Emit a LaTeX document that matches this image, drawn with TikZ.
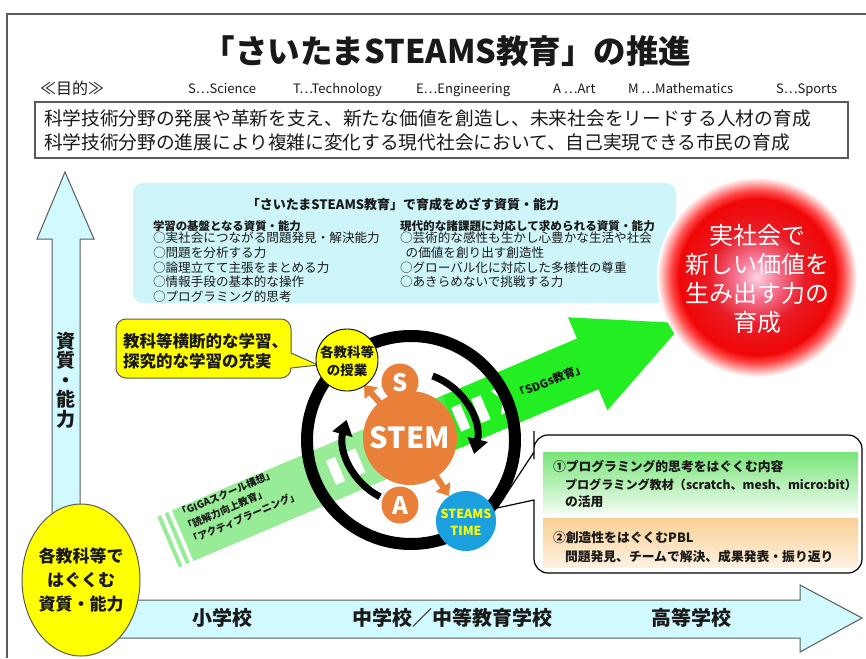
\documentclass[tikz,border=0pt]{standalone}
\usepackage{fontspec}
\setmainfont{Noto Sans CJK JP}
\usetikzlibrary{arrows.meta,calc}
\definecolor{cyanbg}{RGB}{206,246,250}
\definecolor{arrowcyan}{RGB}{208,250,255}
\definecolor{palegreen}{RGB}{152,236,152}
\definecolor{brightgreen}{RGB}{34,238,34}
\definecolor{stemorange}{RGB}{233,128,58}
\definecolor{timeblue}{RGB}{26,160,222}
\definecolor{yel}{RGB}{255,255,0}
\definecolor{framegray}{RGB}{90,90,90}
\definecolor{txt}{RGB}{25,25,25}
\definecolor{callgreen}{RGB}{120,228,120}
\definecolor{callpeach}{RGB}{249,208,150}
\definecolor{gzero}{RGB}{255,212,232}
\definecolor{gone}{RGB}{245,120,150}
\definecolor{gtwo}{RGB}{232,28,38}
\definecolor{gthree}{RGB}{240,6,6}
\definecolor{gfour}{RGB}{255,70,70}
\pgfdeclareradialshading{redglow}{\pgfpoint{0bp}{0bp}}{color(0bp)=(gzero); color(5bp)=(gone); color(12bp)=(gtwo); color(19.5bp)=(gthree); color(21.5bp)=(gfour); color(25bp)=(white); color(50bp)=(white)}
\newcommand{\fsz}[2]{\fontsize{#1}{#2}\selectfont}
\begin{document}
\begin{tikzpicture}[x=1pt,y=-1pt,
  lbl/.style={inner sep=0pt,outer sep=0pt,text=txt},
  item/.style={lbl,anchor=west,align=left,font=\fsz{12.6}{14.7}},
  defn/.style={lbl,anchor=base west,font=\fsz{13}{13}},
  bubble/.style={draw=framegray,line width=1},
  blackarc/.style={line width=7,-{Triangle[width=20pt,length=15pt]}},
  orangearrow/.style={stemorange,line width=6,-{Triangle[width=17pt,length=11pt]}}]
\useasboundingbox (0,0) rectangle (866,658);
\fill[white] (0,0) rectangle (866,658);

% frame
\draw[framegray,line width=1.2] (7,658) -- (7,14) -- (866,14);

% title and purpose
\node[lbl,font=\bfseries\fsz{32.5}{34}] (title) at (447,51) {「さいたまSTEAMS教育」の推進};
\node[lbl,anchor=base west,font=\fsz{16}{16}] (purpose) at (40,94.5) {≪目的≫};
\node[defn] (dS) at (188,94) {S…Science};
\node[defn] (dT) at (293,94) {T…Technology};
\node[defn] (dE) at (416,94) {E…Engineering};
\node[defn] (dA) at (553,94) {A …Art};
\node[defn] (dM) at (628,94) {M …Mathematics};
\node[defn] (dS2) at (776,94) {S…Sports};
\draw[framegray,line width=1.3] (35,102) rectangle (848,158);
\node[lbl,anchor=west,font=\fsz{18.7}{22}] (aim1) at (44,118) {科学技術分野の発展や革新を支え、新たな価値を創造し、未来社会をリードする人材の育成};
\node[lbl,anchor=west,font=\fsz{18.7}{22}] (aim2) at (44,142) {科学技術分野の進展により複雑に変化する現代社会において、自己実現できる市民の育成};

% cyan box
\fill[cyanbg,rounded corners=10] (133,183) rectangle (676,303);
\node[lbl,font=\bfseries\fsz{13}{13}] (cyantitle) at (403,205) {「さいたまSTEAMS教育」で育成をめざす資質・能力};
\node[lbl,anchor=west,font=\bfseries\fsz{11.4}{12}] (lhead) at (153,226) {学習の基盤となる資質・能力};
\node[item] (l1) at (153,238) {○実社会につながる問題発見・解決能力};
\node[item] (l2) at (153,252.7) {○問題を分析する力};
\node[item] (l3) at (153,267.4) {○論理立てて主張をまとめる力};
\node[item] (l4) at (153,282.1) {○情報手段の基本的な操作};
\node[item] (l5) at (153,296.8) {○プログラミング的思考};
\node[lbl,anchor=west,font=\bfseries\fsz{11.6}{12}] (rhead) at (400,226) {現代的な諸課題に対応して求められる資質・能力};
\node[item] (r1) at (400,238) {○芸術的な感性も生かし心豊かな生活や社会};
\node[item] (r2) at (400,252.7) {\ \ の価値を創り出す創造性};
\node[item] (r3) at (400,267.4) {○グローバル化に対応した多様性の尊重};
\node[item] (r4) at (400,282.1) {○あきらめないで挑戦する力};

% axes arrow (L shape)
\draw[framegray,fill=arrowcyan,line width=1] (52,638) -- (52,239) -- (37,239) -- (65,172) -- (94,239) -- (80,239) -- (80,600) -- (800,600) -- (800,585) -- (862,618) -- (800,652) -- (800,638) -- cycle;
\node[lbl,align=center,font=\bfseries\fsz{19}{19.5}] (vlabel) at (66,380) {資\\質\\・\\能\\力};
\node[lbl,font=\bfseries\fsz{20}{20}] (es) at (222,618) {小学校};
\node[lbl,font=\bfseries\fsz{20}{20}] (ms) at (452,618) {中学校／中等教育学校};
\node[lbl,font=\bfseries\fsz{20}{20}] (hs) at (691,618) {高等学校};

% yellow ellipse
\filldraw[fill=yel,draw=framegray,line width=1] (81,580) ellipse[x radius=59,y radius=76];
\node[lbl,align=center,font=\bfseries\fsz{17}{24}] (ellipsetext) at (81,580) {各教科等で\\はぐくむ\\資質・能力};

% green arrow
\begin{scope}[shift={(168,542)},rotate=23]
  \fill[palegreen] (0,-27.5) rectangle (4,27.5);
  \fill[palegreen] (8,-27.5) rectangle (12,27.5);
  \fill[palegreen] (16,-27.5) rectangle (240,27.5);
  \shade[left color=palegreen,right color=brightgreen] (239,-27.5) rectangle (311,27.5);
  \fill[brightgreen] (310,-27.5) -- (456,-27.5) -- (456,-50.5) -- (560,0) -- (456,50.5) -- (456,27.5) -- (310,27.5) -- cycle;
  \foreach \t in {160,182,204,318,340} {\fill[white] (\t-5,-13) rectangle (\t+5,13);}
  \fill[white] (356,-13) -- (364,-13) -- (372,0) -- (364,13) -- (356,13) -- (364,0) -- cycle;
\end{scope}
\node[lbl,anchor=north west,rotate=23,align=left,font=\bfseries\fsz{10}{14.5}] (bandtext) at (176,510) {「GIGAスクール構想」\\「読解力向上教育」\\「アクティブラーニング」};
\node[lbl,rotate=22,font=\bfseries\fsz{11.5}{11.5}] (sdgs) at (550,381) {「SDGs教育」};

% red circle
\shade[shading=redglow] (757,277) circle[radius=100];
\node[lbl,text=white,align=center,font=\fsz{24}{29.3}] (goal) at (757,279) {実社会で\\新しい価値を\\生み出す力の\\育成};

% yellow speech bubble
\draw[bubble,fill=yel] (291,368) [rounded corners=10] -- (291,378) -- (116,378) -- (116,319) -- (291,319) -- (291,340) [sharp corners] -- (291,353) -- (318,365) -- cycle;
\node[lbl,anchor=west,align=left,font=\bfseries\fsz{16.5}{20}] (bubbletext) at (123,351) {教科等横断的な学習、\\探究的な学習の充実};

% callout bubble
\draw[black,line width=1.2] (534,500) [rounded corners=14] -- (534,573) -- (862,573) -- (862,435) -- (534,435) -- (534,445) [sharp corners] -- (534,452) -- (497,508) -- cycle;
\shade[top color=callgreen,bottom color=callgreen!12!white] (543,452) rectangle (858,512);
\shade[top color=callpeach,bottom color=callpeach!30!white] (543,518) rectangle (858,567);
\node[lbl,anchor=west,font=\bfseries\fsz{12.8}{13}] (c1) at (553,467) {①プログラミング的思考をはぐくむ内容};
\node[lbl,anchor=west,font=\bfseries\fsz{12.1}{13}] (c2) at (565,484.5) {プログラミング教材（scratch、mesh、micro:bit）};
\node[lbl,anchor=west,font=\bfseries\fsz{12.8}{13}] (c3) at (565,502) {の活用};
\node[lbl,anchor=west,font=\bfseries\fsz{12.8}{13}] (c4) at (553,538) {②創造性をはぐくむPBL};
\node[lbl,anchor=west,font=\bfseries\fsz{12.8}{13}] (c5) at (565,557) {問題発見、チームで解決、成果発表・振り返り};

% ring
\draw[line width=12] (411,440) circle[radius=104];
\coordinate (c) at (410,438);
\draw[blackarc] ($(c)+(-70:66)$) arc[start angle=-70,end angle=14,radius=66];
\draw[blackarc] ($(c)+(117:66)$) arc[start angle=117,end angle=196,radius=66];

% orange arrows and circles
\coordinate (ularrowstart) at (388,412);
\coordinate (ularrowtip) at (364,385);
\coordinate (drarrowstart) at (430,467);
\coordinate (drarrowtip) at (449,496);
\draw[orangearrow] (ularrowstart) -- (ularrowtip);
\draw[orangearrow] (drarrowstart) -- (drarrowtip);
\fill[stemorange] (410,438) circle[radius=47];
\node[lbl,text=white,font=\bfseries\fsz{29}{29}] (stem) at (410,438) {STEM};
\fill[stemorange] (400,382) circle[radius=18.5];
\node[lbl,text=white,font=\bfseries\fsz{24}{24}] (S) at (400,383) {S};
\fill[stemorange] (400,505) circle[radius=18.5];
\node[lbl,text=white,font=\bfseries\fsz{24}{24}] (A) at (400,506) {A};

\filldraw[fill=yel,draw=black,line width=0.9] (347,360) circle[radius=31];
\node[lbl,align=center,font=\bfseries\fsz{13.5}{18}] (lesson) at (347,361) {各教科等\\の授業};
\fill[timeblue] (466,521) circle[radius=30];
\node[lbl,text=yel,align=center,font=\bfseries\fsz{12.5}{17}] (time) at (466,522) {STEAMS\\TIME};
\end{tikzpicture}
\end{document}
